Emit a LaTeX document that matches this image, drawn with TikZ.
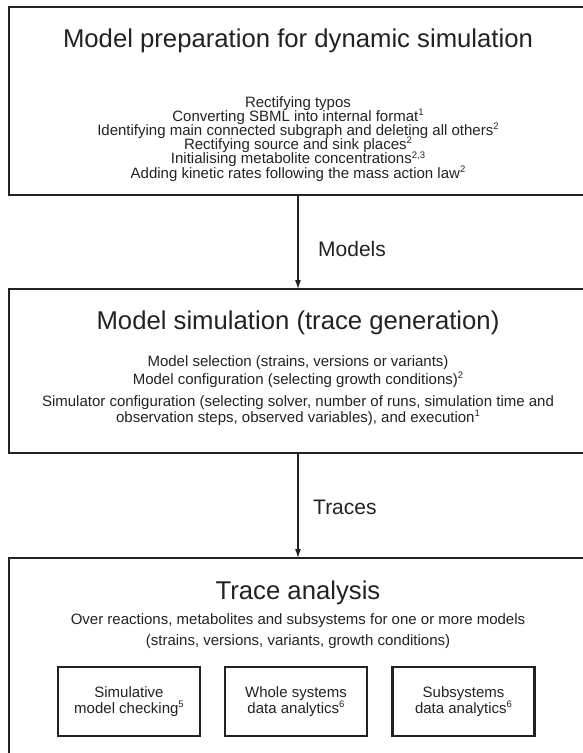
\documentclass[tikz,border=0pt]{standalone}
\usepackage{fontspec}
\setmainfont{Liberation Sans}
\usetikzlibrary{arrows.meta}
\definecolor{ink}{HTML}{222222}
\newcommand\fnmark[1]{\raisebox{0.38em}{\fontsize{9.5}{9.5}\selectfont #1}}
\begin{document}
\begin{tikzpicture}[x=1pt,y=-1pt,
  bigbox/.style={draw=ink, line width=2.5pt, rectangle, inner sep=0pt, outer sep=0pt},
  smallbox/.style={draw=ink, line width=2.3pt, rectangle, inner sep=0pt, outer sep=0pt, minimum width=142pt, minimum height=69pt},
  titletext/.style={anchor=base, inner sep=0pt, text=ink, font=\fontsize{25.7}{30}\selectfont},
  bodytext/.style={anchor=base, inner sep=0pt, text=ink, font=\fontsize{15}{18}\selectfont},
  flowlabel/.style={anchor=base west, inner sep=0pt, text=ink, font=\fontsize{21}{25}\selectfont},
  flow/.style={draw=ink, line width=1.1pt, -{Latex[length=9pt,width=6pt]}}
]
\useasboundingbox (0,0) rectangle (583,753);
\clip (0,0) rectangle (583,753);

% boxes
\node[bigbox, minimum width=578pt, minimum height=188pt] (prep) at (298,101) {};
\node[bigbox, minimum width=578pt, minimum height=164pt] (sim) at (298,371) {};
\node[bigbox, minimum width=578pt, minimum height=210pt] (ana) at (298,663) {};

% box 1 text
\node[titletext] (t1) at (298,47) {Model preparation for dynamic simulation};
\node[bodytext] (p1) at (298,107) {Rectifying typos};
\node[bodytext] (p2) at (298,121.2) {Converting SBML into internal format\fnmark{1}};
\node[bodytext] (p3) at (298,135.4) {Identifying main connected subgraph and deleting all others\fnmark{2}};
\node[bodytext] (p4) at (298,149.6) {Rectifying source and sink places\fnmark{2}};
\node[bodytext] (p5) at (298,163.8) {Initialising metabolite concentrations\fnmark{2,3}};
\node[bodytext] (p6) at (298,178) {Adding kinetic rates following the mass action law\fnmark{2}};

% box 2 text
\node[titletext] (t2) at (298,329) {Model simulation (trace generation)};
\node[bodytext] (s1) at (298,366) {Model selection (strains, versions or variants)};
\node[bodytext] (s2) at (298,384) {Model configuration (selecting growth conditions)\fnmark{2}};
\node[bodytext] (s3) at (298,406) {Simulator configuration (selecting solver, number of runs, simulation time and};
\node[bodytext] (s4) at (298,422.5) {observation steps, observed variables), and execution\fnmark{1}};

% box 3 text
\node[titletext] (t3) at (298,599) {Trace analysis};
\node[bodytext] (a1) at (298,624) {Over reactions, metabolites and subsystems for one or more models};
\node[bodytext] (a2) at (298,645) {(strains, versions, variants, growth conditions)};

% inner boxes
\node[smallbox] (smc) at (129,701.5) {};
\node[smallbox] (wsd) at (296,701.5) {};
\node[smallbox] (ssd) at (463.5,701.5) {};
\node[bodytext] (smc1) at (129,697) {Simulative};
\node[bodytext] (smc2) at (129,713) {model checking\fnmark{5}};
\node[bodytext] (wsd1) at (296,697) {Whole systems};
\node[bodytext] (wsd2) at (296,713) {data analytics\fnmark{6}};
\node[bodytext] (ssd1) at (463.5,697) {Subsystems};
\node[bodytext] (ssd2) at (463.5,713) {data analytics\fnmark{6}};

% connectors
\draw[flow] (prep.south) -- (sim.north);
\draw[flow] (sim.south) -- (ana.north);
\node[flowlabel] (lm) at (318,256) {Models};
\node[flowlabel] (lt) at (313,514) {Traces};
\end{tikzpicture}
\end{document}
